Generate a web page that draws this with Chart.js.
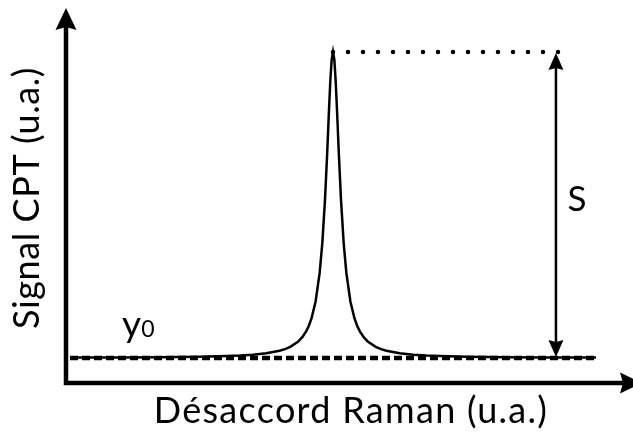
<!DOCTYPE html>
<html>
<head>
<meta charset="utf-8">
<script src="https://cdn.jsdelivr.net/npm/chart.js@4/dist/chart.umd.min.js"></script>
<style>
  html, body { margin: 0; padding: 0; background: #fff; }
  #wrap { width: 633px; height: 434px; }
</style>
</head>
<body>
<div id="wrap"><canvas id="c" width="633" height="434"></canvas></div>
<script>
// CPT resonance vs Raman detuning (arbitrary units)
const detuning = [-9.85, -8, -6.5, -5, -4, -3.5, -3, -2.5, -2, -1.8, -1.6, -1.3, -1.15, -1.0, -0.9, -0.8, -0.65, -0.5, -0.4, -0.3, -0.22, -0.15, -0.1, -0.05, 0,
                  0.05, 0.1, 0.15, 0.22, 0.3, 0.4, 0.5, 0.65, 0.8, 0.9, 1.0, 1.15, 1.3, 1.6, 1.8, 2, 2.5, 3, 3.5, 4, 5, 6.5, 8, 9.85];
const signal = [0.83, 0.835, 0.843, 0.858, 0.88, 0.898, 0.926, 0.971, 1.055, 1.108, 1.182, 1.358, 1.497, 1.696, 1.881, 2.125, 2.672, 3.597, 4.572, 5.984, 7.468, 8.923, 9.878, 10.566, 10.82,
                10.566, 9.878, 8.923, 7.468, 5.984, 4.572, 3.597, 2.672, 2.125, 1.881, 1.696, 1.497, 1.358, 1.182, 1.108, 1.055, 0.971, 0.926, 0.898, 0.88, 0.858, 0.843, 0.835, 0.83];

const y0 = 0.82;          // off-resonance background
const S = 10;             // resonance amplitude
const baselineSpan = [-9.85, 9.85];
const levelSpan = [0, 8.46];
const arrowX = 8.35;      // where the S arrow stands
const xRange = [-10, 11.236];
const yRange = [0, 12.19];

const xTitle = 'Désaccord Raman (u.a.)';
const yTitle = 'Signal CPT (u.a.)';
const sLabel = 'S';
const y0Label = ['y', '0'];
const sLabelPos = [9.14, 6.05];
const y0LabelPos = [-7.9, 1.5];

const FONT = 'Lato, "Open Sans", sans-serif';

function arrowHead(ctx, tx, ty, dx, dy, len, half, notch) {
  const px = -dy, py = dx;
  const bx = tx - dx * len, by = ty - dy * len;
  ctx.beginPath();
  ctx.moveTo(tx, ty);
  ctx.lineTo(bx + px * half, by + py * half);
  ctx.lineTo(tx - dx * (len - notch), ty - dy * (len - notch));
  ctx.lineTo(bx - px * half, by - py * half);
  ctx.closePath();
  ctx.fill();
}

const decorations = {
  id: 'decorations',
  afterDatasetsDraw(chart) {
    const ctx = chart.ctx;
    const xs = chart.scales.x, ys = chart.scales.y;
    const a = chart.chartArea;
    ctx.save();
    ctx.fillStyle = '#000';
    ctx.strokeStyle = '#000';

    // axes
    ctx.lineWidth = 4.5;
    ctx.lineCap = 'butt';
    ctx.beginPath();
    ctx.moveTo(a.left, a.bottom + 2.25);
    ctx.lineTo(a.left, 26);
    ctx.moveTo(a.left - 2.25, a.bottom);
    ctx.lineTo(624, a.bottom);
    ctx.stroke();
    arrowHead(ctx, a.left, 8, 0, -1, 22, 10.5, 3);
    arrowHead(ctx, 642, a.bottom, 1, 0, 22, 10.5, 3);

    // S double arrow between baseline and peak level
    const ax = xs.getPixelForValue(arrowX);
    const yTop = ys.getPixelForValue(y0 + S);
    const yBot = ys.getPixelForValue(y0);
    ctx.lineWidth = 2.5;
    ctx.beginPath();
    ctx.moveTo(ax, yTop + 10);
    ctx.lineTo(ax, yBot - 10);
    ctx.stroke();
    arrowHead(ctx, ax, yTop + 1, 0, -1, 17, 7.5, 2);
    arrowHead(ctx, ax, yBot - 1, 0, 1, 17, 7.5, 2);

    // labels
    ctx.textBaseline = 'alphabetic';
    ctx.textAlign = 'center';
    ctx.font = '36px ' + FONT;
    ctx.letterSpacing = '1.3px';
    ctx.fillText(xTitle, 351, 423);

    ctx.save();
    ctx.letterSpacing = '0.6px';
    ctx.translate(39, 198);
    ctx.rotate(-Math.PI / 2);
    ctx.fillText(yTitle, 0, 0);
    ctx.restore();
    ctx.letterSpacing = '0px';

    ctx.font = '35px ' + FONT;
    ctx.textAlign = 'center';
    ctx.fillText(sLabel, xs.getPixelForValue(sLabelPos[0]), ys.getPixelForValue(sLabelPos[1]) + 13);

    ctx.textAlign = 'left';
    const lx = xs.getPixelForValue(y0LabelPos[0]);
    const ly = ys.getPixelForValue(y0LabelPos[1]);
    ctx.font = '37px ' + FONT;
    ctx.fillText(y0Label[0], lx, ly);
    const w = ctx.measureText(y0Label[0]).width;
    ctx.font = '23px ' + FONT;
    ctx.fillText(y0Label[1], lx + w, ly);

    ctx.restore();
  }
};

const pts = (xa, ya) => xa.map((x, i) => ({ x, y: ya[i] }));

new Chart(document.getElementById('c'), {
  type: 'line',
  data: {
    datasets: [
      {
        data: pts(detuning, signal),
        borderColor: '#000',
        borderWidth: 2.5,
        pointRadius: 0,
        tension: 0,
        order: 2
      },
      {
        data: pts(baselineSpan, [y0, y0]),
        borderColor: '#000',
        borderWidth: 4.5,
        borderDash: [8, 4],
        pointRadius: 0,
        order: 1
      },
      {
        data: pts(levelSpan, [y0 + S, y0 + S]),
        borderColor: '#000',
        borderWidth: 4.5,
        borderDash: [0, 15],
        borderCapStyle: 'round',
        pointRadius: 0,
        order: 1
      }
    ]
  },
  options: {
    responsive: false,
    devicePixelRatio: 1,
    animation: false,
    layout: { padding: { left: 66, right: 0, top: 10, bottom: 51 } },
    plugins: { legend: { display: false }, tooltip: { enabled: false } },
    scales: {
      x: { type: 'linear', display: false, min: xRange[0], max: xRange[1] },
      y: { type: 'linear', display: false, min: yRange[0], max: yRange[1] }
    }
  },
  plugins: [decorations]
});
</script>
</body>
</html>
